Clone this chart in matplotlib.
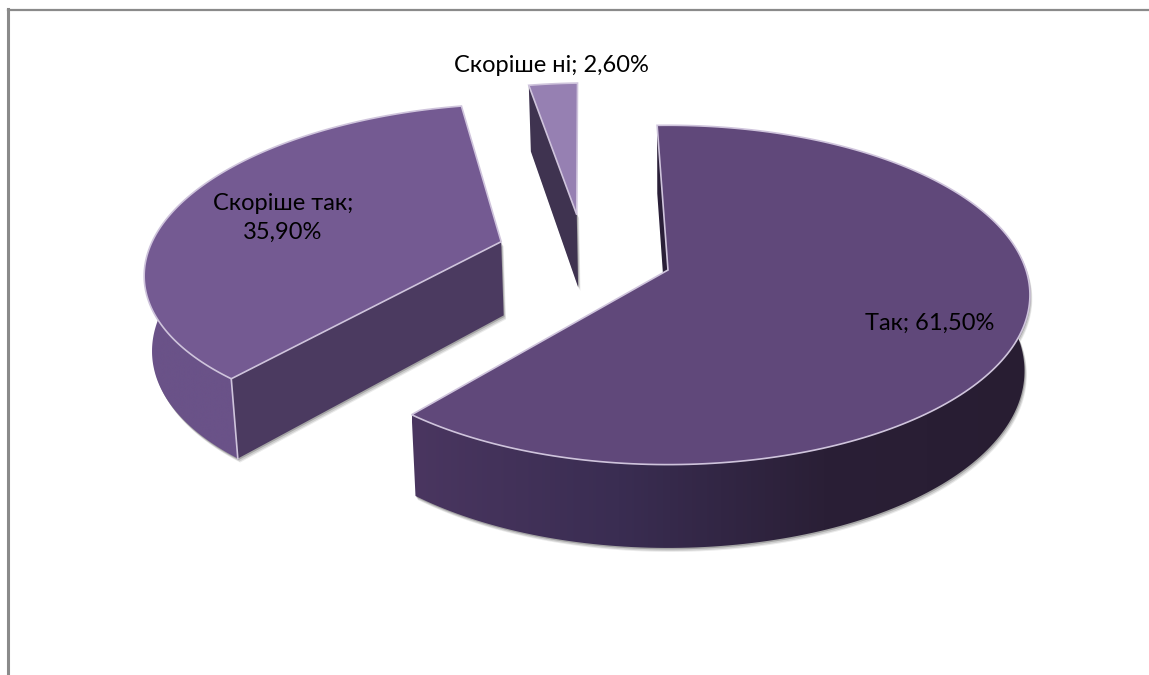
import numpy as np
import matplotlib
matplotlib.use('agg')
import matplotlib.pyplot as plt
from matplotlib.patches import Polygon

labels = ["Так", "Скоріше так", "Скоріше ні"]
values = [61.5, 35.9, 2.6]
value_texts = ["61,50%", "35,90%", "2,60%"]

# pie geometry in pixels, worked out from the reference
cx, cy = 668, 270
rx, ry = 358, 166
persp = 0.147
depth = 75
start_angle = -2  # degrees clockwise from 12 o'clock
explode = [(0, 0), (-0.478, 0.175), (-0.268, 0.35)]

top_colors = ["#60487a", "#745a92", "#9680b2"]
cut_colors = ["#2a1f38", "#4b3a60", "#3f3350"]
arc_colors = [["#4a3660", "#3a2d52", "#2a1f36", "#281d32"], ["#6a5288", "#6a5288"], ["#3f3350", "#3f3350"]]
edge_color = "#cfc4dc"

plt.rcParams['font.family'] = ['Lato', 'Open Sans', 'DejaVu Sans']


def project(u, v, bottom=False):
    w = 1 + persp * v
    x = cx + rx * u / w
    y = cy - ry * v / w
    if bottom:
        x = cx + (x - cx) * 0.985
        y = y + depth / (1 + 0.1 * v)
    return x, y


def gradient_fill(ax, poly, colors):
    # horizontal gradient clipped to the polygon
    cmap = matplotlib.colors.LinearSegmentedColormap.from_list("g", colors)
    xs, ys = poly[:, 0], poly[:, 1]
    im = ax.imshow(np.linspace(0, 1, 256)[None, :], cmap=cmap, aspect='auto',
                   extent=(xs.min(), xs.max(), ys.max(), ys.min()), zorder=2)
    patch = Polygon(poly, closed=True, transform=ax.transData, facecolor='none', edgecolor='none')
    ax.add_patch(patch)
    im.set_clip_path(patch)


fig = plt.figure(figsize=(11.49, 6.75), dpi=100)
ax = fig.add_axes([0, 0, 1, 1])
ax.set_xlim(0, 1149)
ax.set_ylim(675, 0)
ax.axis('off')

# outer frame, only top and left show up
ax.plot([8, 1149], [9.5, 9.5], color="#8a8a8a", lw=1.6, zorder=1)
ax.plot([7.5, 7.5], [9, 675], color="#8a8a8a", lw=2.2, zorder=1)

angle = start_angle
for i in range(len(values)):
    sweep = values[i] / sum(values) * 360
    a = np.radians(90 - np.linspace(angle, angle + sweep, 200))
    angle += sweep
    ox, oy = explode[i]
    u = ox + np.cos(a)
    v = oy + np.sin(a)

    tx, ty = project(u, v)
    bx, by = project(u, v, bottom=True)
    ax0, ay0 = project(ox, oy)
    bx0, by0 = project(ox, oy, bottom=True)

    # only the wall on the start edge faces the viewer
    visible = v < oy + 0.3
    vis = None
    if visible.sum() > 1:
        vis = np.column_stack([np.r_[tx[visible], bx[visible][::-1]], np.r_[ty[visible], by[visible][::-1]]])
    cut_a = np.array([[ax0, ay0], [tx[0], ty[0]], [bx[0], by[0]], [bx0, by0]])

    # soft shadow just off the walls
    for off, alpha in [(4, 0.08), (3, 0.12), (1.5, 0.2)]:
        for w in (vis, cut_a):
            if w is not None:
                ax.add_patch(Polygon(w + [off * 0.6, off], closed=True, facecolor='black',
                                     edgecolor='none', alpha=alpha, zorder=1.5))

    if vis is not None:
        gradient_fill(ax, vis, arc_colors[i])
    ax.add_patch(Polygon(cut_a, closed=True, facecolor=cut_colors[i], edgecolor='none', zorder=3))

    # top face
    top = np.column_stack([np.r_[ax0, tx], np.r_[ay0, ty]])
    ax.add_patch(Polygon(top, closed=True, facecolor=top_colors[i], edgecolor=edge_color, lw=1.2, zorder=4))

    # light vertical edge at the near corner of the cut
    if i == 1:
        ax.plot([tx[0], bx[0]], [ty[0], by[0]], color=edge_color, lw=1.2, zorder=5)

text_kw = dict(ha='center', va='center', color='black', fontsize=17, zorder=6)
ax.text(930, 323, labels[0] + "; " + value_texts[0], **text_kw)
ax.text(283, 218, labels[1] + ";\n" + value_texts[1], linespacing=1.5, **text_kw)
ax.text(551, 66, labels[2] + "; " + value_texts[2], **text_kw)

plt.savefig("out.png", dpi=100)
